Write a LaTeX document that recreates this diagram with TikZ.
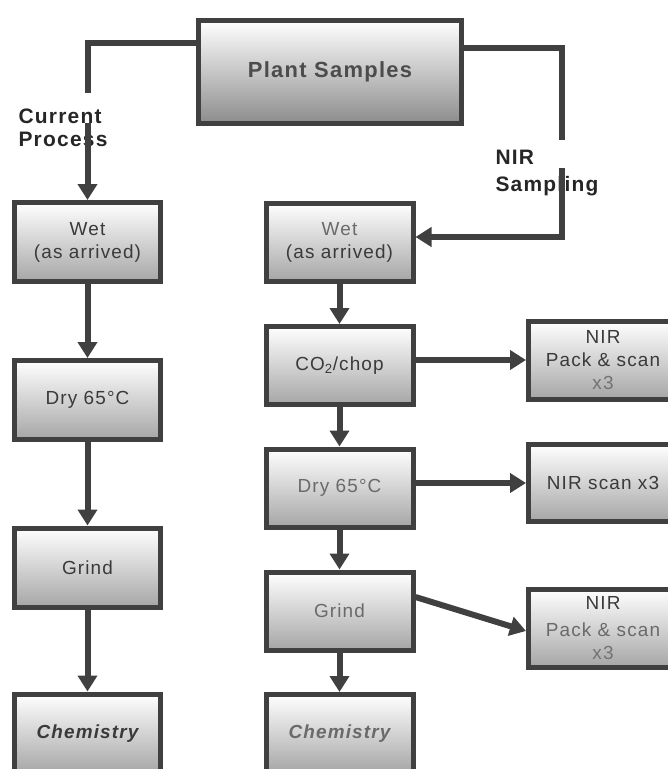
\documentclass[tikz,border=0pt]{standalone}
\usepackage{fontspec}
\setmainfont[LetterSpace=6]{Liberation Sans}
\usetikzlibrary{arrows.meta}
\definecolor{edge}{HTML}{404040}
\definecolor{ink}{HTML}{3A3A3A}
\definecolor{pale}{HTML}{6A6A6A}
\begin{document}
\begin{tikzpicture}[x=1bp,y=-1bp,
  box/.style={draw=edge,line width=5bp,top color=white,bottom color=black!35,text=ink,align=center,inner sep=0pt,font=\fontsize{19}{23}\selectfont},
  lbox/.style={box,minimum width=145bp,minimum height=79bp},
  rbox/.style={box,text=pale,minimum width=147bp,minimum height=78bp},
  nbox/.style={box,minimum width=149bp,minimum height=78bp},
  chem/.style={font=\bfseries\itshape\fontsize{19}{23}\selectfont},
  link/.style={draw=edge,line width=6bp},
  arr/.style={link,-{Triangle[width=19bp,length=16bp]}},
  tag/.style={anchor=west,align=left,text=black!85,font=\bfseries\fontsize{21}{23}\selectfont}]
\path[use as bounding box] (0,0) rectangle (668,769);
\node[box,minimum width=263bp,minimum height=103bp,bottom color=black!45,text=black!70,font=\bfseries\fontsize{22}{26}\selectfont] (plant) at (330,72) {Plant Samples};
\node[tag] (cur) at (15,128) {Current\\Process};
\node[tag,font=\bfseries\fontsize{21}{28}\selectfont] (nirs) at (492,173) {NIR\\Sampling};
\node[lbox] (lwet) at (87.5,242) {Wet\\(as arrived)};
\node[lbox] (ldry) at (87.5,400) {Dry 65°C};
\node[lbox] (lgrind) at (87.5,567.5) {Grind};
\node[lbox,chem] (lchem) at (87.5,733.5) {Chemistry};
\node[rbox] (rwet) at (339.5,242) {Wet\\{\color{ink}(as arrived)}};
\node[rbox,text=ink] (rco2) at (339.5,365.5) {CO\textsubscript{2}/chop};
\node[rbox] (rdry) at (339.5,488) {Dry 65°C};
\node[rbox] (rgrind) at (339.5,611) {Grind};
\node[rbox,chem] (rchem) at (339.5,733.5) {Chemistry};
\node[nbox] (nir1) at (603,360) {NIR\\Pack \& scan\\{\color{black!55}x3}};
\node[nbox,minimum height=77bp] (nir2) at (603,483) {NIR scan x3};
\node[nbox] (nir3) at (603,628) {NIR\\[5bp]{\color{pale}Pack \& scan}\\{\color{black!55}x3}};
\coordinate (pl) at (196,43);
\coordinate (lcut) at (87.5,93);
\coordinate (lgo) at (87.5,123);
\coordinate (pr) at (464,48);
\coordinate (rcut) at (562,140);
\coordinate (rgo) at (562,168);
\draw[link] (pl) -| (lcut);
\draw[arr] (lgo) -- (lwet);
\draw[link] (pr) -| (rcut);
\draw[arr] (rgo) |- ([yshift=5bp]rwet.east);
\foreach \a/\b in {lwet/ldry,ldry/lgrind,lgrind/lchem,rwet/rco2,rco2/rdry,rdry/rgrind,rgrind/rchem}
  \draw[arr] (\a) -- (\b);
\draw[arr] (rco2.east |- nir1.west) -- (nir1.west);
\draw[arr] (rdry.east |- nir2.west) -- (nir2.west);
\draw[arr] ([yshift=14bp]rgrind.east) -- ([yshift=-3bp]nir3.west);
\end{tikzpicture}
\end{document}
